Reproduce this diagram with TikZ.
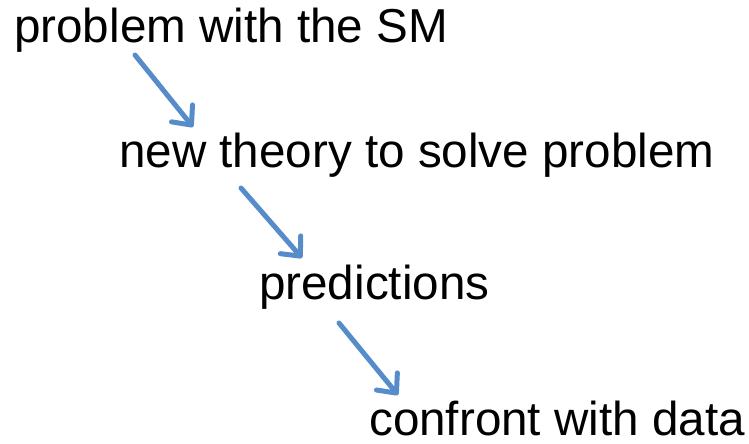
\documentclass[tikz,border=0pt]{standalone}
\usepackage{fontspec}
\setmainfont{Liberation Sans}
\usetikzlibrary{arrows.meta}
\definecolor{arrowblue}{HTML}{578CCA}
\begin{document}
\begin{tikzpicture}[x=1pt, y=-1pt,
    step text/.style={anchor=base west, inner sep=0pt, font=\fontsize{47.6}{56}\selectfont},
    flow arrow/.style={arrowblue, line width=5pt, line cap=round, line join=round,
        -{Straight Barb[length=15pt, width=27pt, line cap=round, line join=round]}}]
    % 画布范围（与参考图尺寸一致）
    \useasboundingbox (0,0) rectangle (749,444);
    
    % 四行文字
    \node[step text] (problem) at (14, 42) {problem with the SM};
    \node[step text] (theory)  at (119, 167) {new theory to solve problem};
    \node[step text] (predict) at (259, 299) {predictions};
    \node[step text] (confront) at (369, 435) {confront with data};
    
    % 箭头端点
    \coordinate (a1s) at (135, 55);  \coordinate (a1e) at (193, 127);
    \coordinate (a2s) at (241, 188); \coordinate (a2e) at (302, 258);
    \coordinate (a3s) at (339, 323); \coordinate (a3e) at (398, 395);
    
    % 斜向箭头
    \draw[flow arrow] (a1s) -- (a1e);
    \draw[flow arrow] (a2s) -- (a2e);
    \draw[flow arrow] (a3s) -- (a3e);
    
\end{tikzpicture}
\end{document}
